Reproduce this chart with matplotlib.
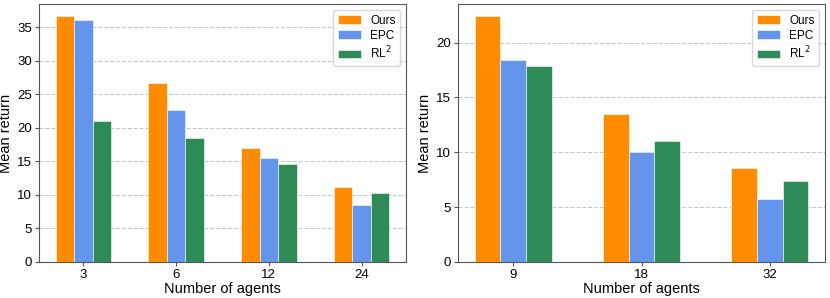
import matplotlib
matplotlib.use("Agg")
import matplotlib.pyplot as plt
import numpy as np

plt.rcParams['font.family'] = ['Liberation Sans', 'DejaVu Sans']

methods = ["Ours", "EPC", "RL$^2$"]
colors = ["#FF8C00", "#6495ED", "#2E8B57"]

left_agents = ["3", "6", "12", "24"]
left_ours = [36.6, 26.6, 17.0, 11.1]
left_epc = [36.1, 22.7, 15.5, 8.5]
left_rl2 = [21.0, 18.4, 14.6, 10.35]

right_agents = ["9", "18", "32"]
right_ours = [22.4, 13.5, 8.6]
right_epc = [18.4, 10.0, 5.7]
right_rl2 = [17.9, 11.0, 7.4]

fig = plt.figure(figsize=(8.3, 2.98), dpi=100)
ax1 = fig.add_axes([39/830, 1-262/298, (406-39)/830, (262-4)/298])
ax2 = fig.add_axes([458/830, 1-262/298, (825-458)/830, (262-4)/298])

w = 0.2
def draw(ax, cats, series):
    x = np.arange(len(cats))
    for i, (vals, name, c) in enumerate(zip(series, methods, colors)):
        ax.bar(x + (i - 1) * w, vals, w, label=name, color=c,
               edgecolor="white", linewidth=0.4, zorder=3)
    ax.set_xticks(x)
    ax.set_xticklabels(cats)
    ax.yaxis.grid(True, linestyle="--", color="#c8c8c8", linewidth=0.8, zorder=0)
    ax.set_axisbelow(True)
    ax.set_xlabel("Number of agents", fontsize=10.5, labelpad=1)
    ax.set_ylabel("Mean return", fontsize=10.5, labelpad=3)
    ax.tick_params(labelsize=9.5, length=3, pad=2, color="#555555")
    for s in ax.spines.values():
        s.set_color("#555555")
    ax.legend(loc="upper right", fontsize=8.5, handlelength=1.9, borderpad=0.4,
              labelspacing=0.25, handletextpad=0.8)

draw(ax1, left_agents, [left_ours, left_epc, left_rl2])
draw(ax2, right_agents, [right_ours, right_epc, right_rl2])

fig.savefig("out.png", dpi=100)
